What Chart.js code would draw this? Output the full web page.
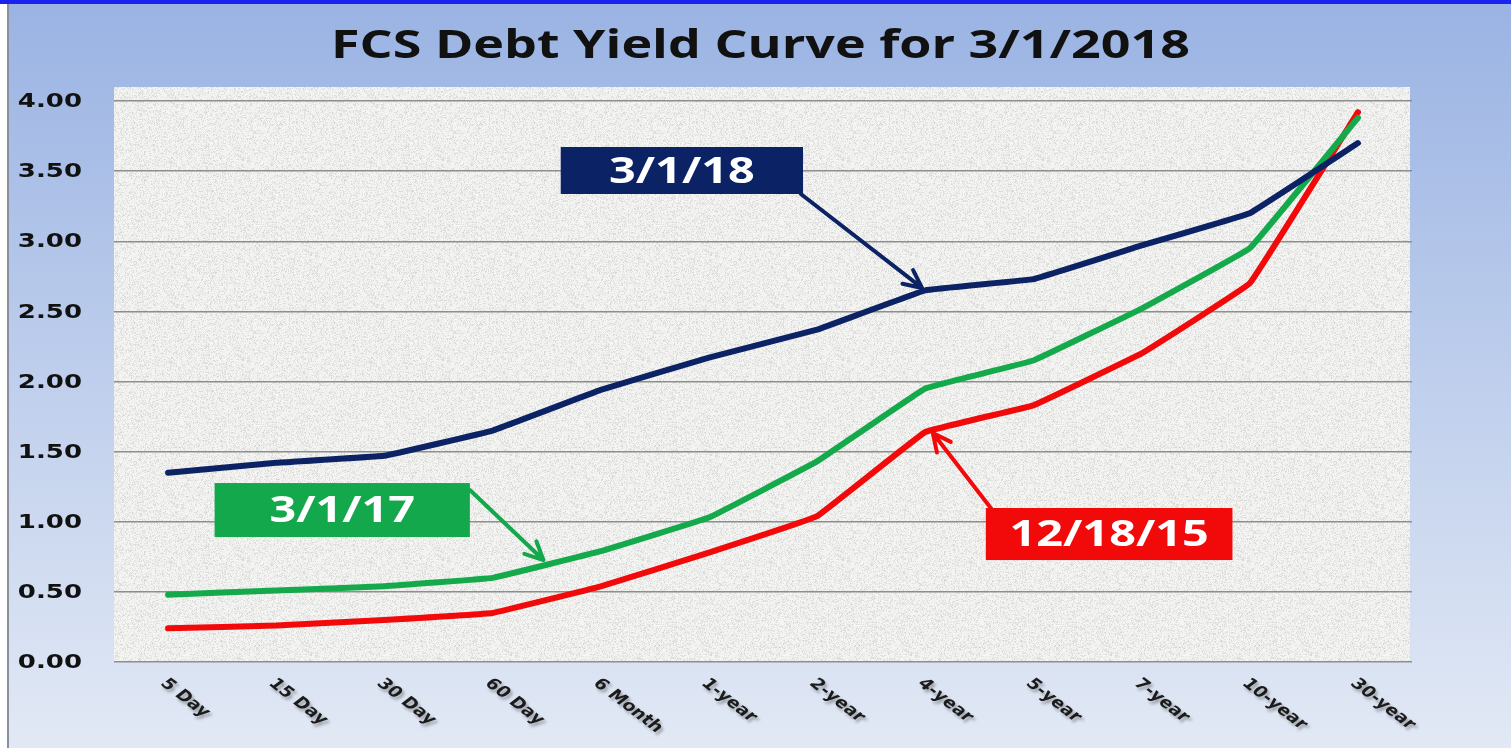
<!DOCTYPE html>
<html>
<head>
<meta charset="utf-8">
<script src="https://cdn.jsdelivr.net/npm/chart.js@4/dist/chart.umd.min.js"></script>
<style>
html,body{margin:0;padding:0;background:#fff;overflow:hidden}
canvas{display:block}
</style>
</head>
<body>
<canvas id="yieldChart" width="1511" height="748"></canvas>
<script>
// terms on the x axis
const terms = ['5 Day','15 Day','30 Day','60 Day','6 Month','1-year','2-year','4-year','5-year','7-year','10-year','30-year'];
// yields
const yield_3_1_18 = [1.35, 1.42, 1.47, 1.65, 1.94, 2.17, 2.37, 2.65, 2.73, 2.97, 3.20, 3.70];
const yield_3_1_17 = [0.48, 0.51, 0.54, 0.60, 0.79, 1.03, 1.43, 1.95, 2.15, 2.52, 2.95, 3.88];
const yield_12_18_15 = [0.24, 0.26, 0.30, 0.35, 0.54, 0.78, 1.04, 1.64, 1.83, 2.20, 2.70, 3.92];
const yTicks = [0, 0.5, 1, 1.5, 2, 2.5, 3, 3.5, 4];
const chartTitle = 'FCS Debt Yield Curve for 3/1/2018';

// callout boxes + arrows, in data units (category index, yield)
const callouts = [
    {text: '3/1/18',   color: '#0b2265', box: [3.63, 3.672, 5.87, 3.337], from: [5.85, 3.337], to: [6.97, 2.667]},
    {text: '3/1/17',   color: '#12a84b', box: [0.43, 1.276, 2.79, 0.891], from: [2.79, 1.226], to: [3.47, 0.727]},
    {text: '12/18/15', color: '#f20a0a', box: [7.56, 1.098, 9.84, 0.727], from: [7.62, 1.084], to: [7.07, 1.633]}
];

// the original slide is stretched sideways, so all text gets the same stretch
const STRETCH = 1.3;

function wideText(ctx, text, x, y, align) {
    ctx.save();
    ctx.translate(x, y);
    ctx.scale(STRETCH, 1);
    ctx.textAlign = align;
    ctx.fillText(text, 0, 0);
    ctx.restore();
}

// light grey speckle tile for the plot background
function noiseTile() {
    let c = document.createElement('canvas');
    c.width = 200; c.height = 200;
    let g = c.getContext('2d');
    let img = g.createImageData(200, 200);
    let s = 12345;
    for (let i = 0; i < 200 * 200; i++) {
        s = (s * 1103515245 + 12345) & 0x7fffffff;
        let r = (s >> 8) % 100;
        let v = r < 70 ? 238 + (r % 10) : 214 + (r % 22);
        img.data[i * 4] = v;
        img.data[i * 4 + 1] = v;
        img.data[i * 4 + 2] = v - 2;
        img.data[i * 4 + 3] = 255;
    }
    g.putImageData(img, 0, 0);
    return c;
}

const pagePlugin = {
    id: 'page',
    beforeDraw(chart) {
        let ctx = chart.ctx, a = chart.chartArea;
        ctx.save();
        ctx.fillStyle = '#ffffff';
        ctx.fillRect(0, 0, chart.width, chart.height);
        let grad = ctx.createLinearGradient(0, 0, 0, chart.height);
        grad.addColorStop(0, '#9ab3e3');
        grad.addColorStop(1, '#e2e9f5');
        ctx.fillStyle = grad;
        ctx.fillRect(9, 0, chart.width - 9, chart.height);
        ctx.fillStyle = '#8a8f99';
        ctx.fillRect(7, 4, 2, chart.height);
        ctx.fillStyle = '#1a22f0';
        ctx.fillRect(0, 0, chart.width, 4);
        // textured plot area
        ctx.fillStyle = ctx.createPattern(noiseTile(), 'repeat');
        ctx.fillRect(a.left, a.top - 14, a.right - a.left - 2, a.bottom - a.top + 14);
        // title
        ctx.fillStyle = '#111111';
        ctx.font = 'bold 40px "Open Sans"';
        ctx.textBaseline = 'alphabetic';
        wideText(ctx, chartTitle, chart.width / 2 + 5, 58, 'center');
        ctx.restore();
    }
};

const labelsPlugin = {
    id: 'axisLabels',
    afterDraw(chart) {
        let ctx = chart.ctx, xs = chart.scales.x, ys = chart.scales.y;
        ctx.save();
        // y tick labels
        ctx.font = 'bold 20px "DejaVu Sans"';
        ctx.fillStyle = '#111111';
        ctx.textBaseline = 'middle';
        yTicks.forEach(function(v) {
            wideText(ctx, v.toFixed(2), 82, ys.getPixelForValue(v) + 1, 'right');
        });
        // x labels, 45 degrees then stretched
        ctx.font = 'bold 15px "DejaVu Sans"';
        ctx.fillStyle = '#1b1b1b';
        ctx.textAlign = 'left';
        ctx.textBaseline = 'top';
        ctx.shadowColor = 'rgba(0,0,0,0.3)';
        ctx.shadowOffsetX = 2;
        ctx.shadowOffsetY = 3;
        ctx.shadowBlur = 3;
        terms.forEach(function(t, i) {
            ctx.save();
            ctx.translate(xs.getPixelForTick(i) + 2, chart.chartArea.bottom + 14);
            ctx.scale(STRETCH, 1);
            ctx.rotate(Math.PI / 4);
            ctx.fillText(t, 0, 0);
            ctx.restore();
        });
        ctx.restore();
    }
};

function arrow(ctx, x1, y1, x2, y2, color) {
    let ang = Math.atan2(y2 - y1, x2 - x1);
    ctx.strokeStyle = color;
    ctx.lineWidth = 4;
    ctx.lineCap = 'round';
    ctx.lineJoin = 'round';
    ctx.beginPath();
    ctx.moveTo(x1, y1);
    ctx.lineTo(x2, y2);
    ctx.moveTo(x2 - 20 * Math.cos(ang - 0.45), y2 - 20 * Math.sin(ang - 0.45));
    ctx.lineTo(x2, y2);
    ctx.lineTo(x2 - 20 * Math.cos(ang + 0.45), y2 - 20 * Math.sin(ang + 0.45));
    ctx.stroke();
}

const calloutPlugin = {
    id: 'callouts',
    afterDatasetsDraw(chart) {
        let ctx = chart.ctx, xs = chart.scales.x, ys = chart.scales.y;
        let step = xs.getPixelForTick(1) - xs.getPixelForTick(0);
        let px = function(v) { return xs.getPixelForTick(0) + step * v; };
        ctx.save();
        callouts.forEach(function(c) {
            arrow(ctx, px(c.from[0]), ys.getPixelForValue(c.from[1]), px(c.to[0]), ys.getPixelForValue(c.to[1]), c.color);
            let l = px(c.box[0]), t = ys.getPixelForValue(c.box[1]);
            let r = px(c.box[2]), b = ys.getPixelForValue(c.box[3]);
            ctx.fillStyle = c.color;
            ctx.fillRect(l, t, r - l, b - t);
            ctx.fillStyle = '#ffffff';
            ctx.font = 'bold 36px "Open Sans"';
            ctx.textBaseline = 'middle';
            wideText(ctx, c.text, (l + r) / 2, (t + b) / 2 + 2, 'center');
        });
        ctx.restore();
    }
};

let ctx = document.getElementById('yieldChart').getContext('2d');
let chart = new Chart(ctx, {
    type: 'line',
    data: {
        labels: terms,
        datasets: [{
            label: '3/1/18',
            data: yield_3_1_18,
            borderColor: '#0b2265',
        }, {
            label: '3/1/17',
            data: yield_3_1_17,
            borderColor: '#14aa4c',
        }, {
            label: '12/18/15',
            data: yield_12_18_15,
            borderColor: '#f20a0a',
        }]
    },
    options: {
        responsive: false,
        animation: false,
        layout: {padding: {left: 0, right: 99, top: 101, bottom: 0}},
        elements: {
            line: {borderWidth: 6, tension: 0.05, borderCapStyle: 'round', borderJoinStyle: 'round'},
            point: {radius: 0}
        },
        plugins: {
            legend: {display: false},
            tooltip: {enabled: false},
            title: {display: false}
        },
        scales: {
            x: {
                offset: true,
                grid: {display: false},
                border: {display: false},
                ticks: {display: false},
                afterFit: function(scale) { scale.height = 86; }
            },
            y: {
                min: 0,
                max: 4,
                afterBuildTicks: function(scale) { scale.ticks = yTicks.map(function(v) { return {value: v}; }); },
                ticks: {display: false},
                grid: {color: '#8e8e8e', lineWidth: 1.5, drawTicks: false},
                border: {display: false},
                afterFit: function(scale) { scale.width = 114; }
            }
        }
    },
    plugins: [pagePlugin, labelsPlugin, calloutPlugin]
});
</script>
</body>
</html>
